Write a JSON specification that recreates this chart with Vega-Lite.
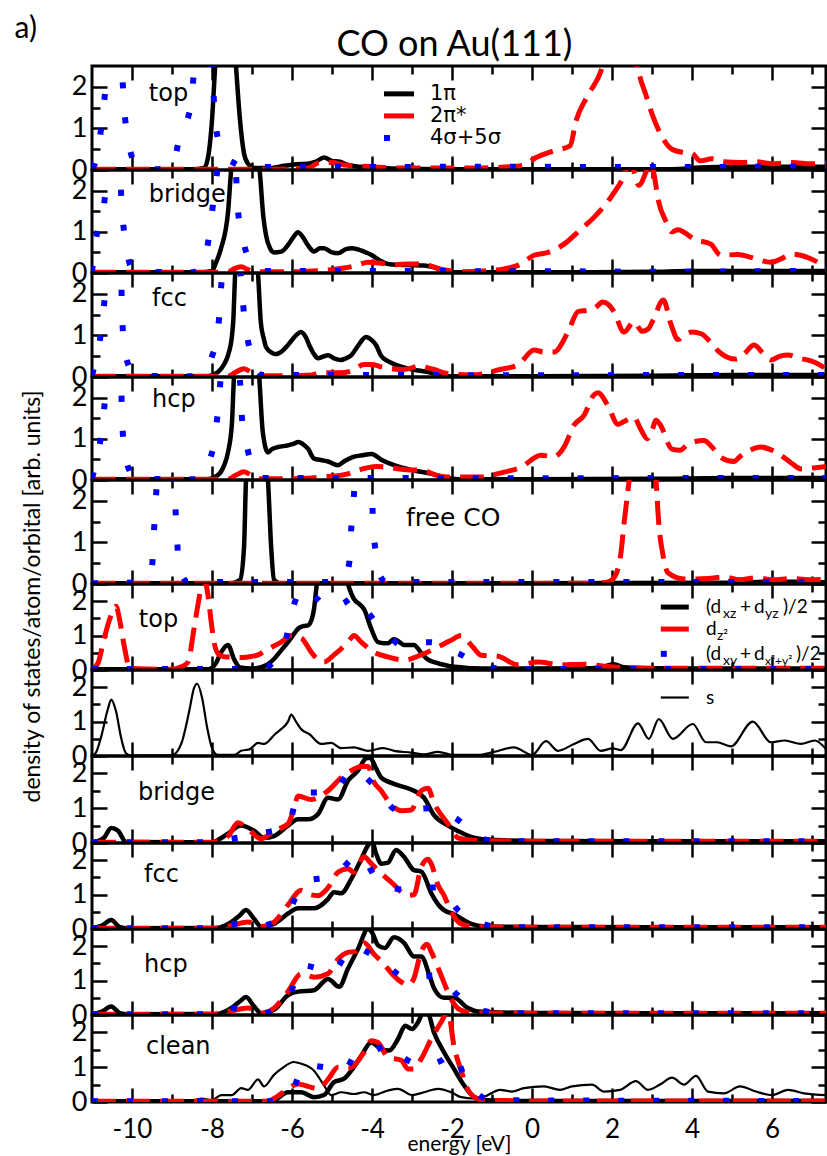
{
"$schema":"https://vega.github.io/schema/vega-lite/v6.json",
"padding":{"left":12,"top":11,"right":0,"bottom":0},
"spacing":0,
"bounds":"flush",
"config":{"font":"Lato","view":{"stroke":"black","strokeWidth":3},
"axis":{"grid":false,"domain":false,"tickColor":"black","tickWidth":2.5,"labelColor":"black","labelFont":"Lato","labelFontSize":27,"labelFlush":false,"labelOverlap":false,"titleColor":"black","titleFont":"Lato","titleFontWeight":"normal"},
"line":{"interpolate":"monotone"},
"text":{"color":"black","font":"Lato"}},
"datasets":{
"p1":[
{"s":"k","x":-11,"y":0.02},{"s":"k","x":-8.4,"y":0.02},{"s":"k","x":-8.2,"y":0.05},{"s":"k","x":-8.1,"y":0.3},{"s":"k","x":-8.0,"y":1.2},{"s":"k","x":-7.92,"y":2.5},{"s":"k","x":-7.8,"y":4},{"s":"k","x":-7.5,"y":4},{"s":"k","x":-7.4,"y":2.5},{"s":"k","x":-7.3,"y":1.2},{"s":"k","x":-7.2,"y":0.4},{"s":"k","x":-7.1,"y":0.15},{"s":"k","x":-6.95,"y":0.05},{"s":"k","x":-6.5,"y":0.05},{"s":"k","x":-6.2,"y":0.1},{"s":"k","x":-5.9,"y":0.14},{"s":"k","x":-5.6,"y":0.15},{"s":"k","x":-5.4,"y":0.2},{"s":"k","x":-5.2,"y":0.3},{"s":"k","x":-5.0,"y":0.22},{"s":"k","x":-4.8,"y":0.2},{"s":"k","x":-4.6,"y":0.12},{"s":"k","x":-4.3,"y":0.08},{"s":"k","x":-3.8,"y":0.05},{"s":"k","x":-3,"y":0.03},{"s":"k","x":-2,"y":0.02},{"s":"k","x":0,"y":0.02},{"s":"k","x":2,"y":0.02},{"s":"k","x":3.5,"y":0.02},{"s":"k","x":4.2,"y":0.06},{"s":"k","x":5,"y":0.08},{"s":"k","x":6,"y":0.08},{"s":"k","x":7.35,"y":0.08},
{"s":"r","x":-11,"y":0.02},{"s":"r","x":-6.5,"y":0.02},{"s":"r","x":-5.6,"y":0.05},{"s":"r","x":-5.3,"y":0.18},{"s":"r","x":-5.0,"y":0.18},{"s":"r","x":-4.7,"y":0.12},{"s":"r","x":-4.4,"y":0.1},{"s":"r","x":-4.0,"y":0.08},{"s":"r","x":-3.5,"y":0.05},{"s":"r","x":-2.5,"y":0.05},{"s":"r","x":-1.5,"y":0.05},{"s":"r","x":-0.5,"y":0.08},{"s":"r","x":-0.2,"y":0.12},{"s":"r","x":0.1,"y":0.3},{"s":"r","x":0.5,"y":0.45},{"s":"r","x":0.95,"y":0.58},{"s":"r","x":1.1,"y":1.18},{"s":"r","x":1.4,"y":1.8},{"s":"r","x":1.75,"y":2.45},{"s":"r","x":2.0,"y":3.5},{"s":"r","x":2.3,"y":4},{"s":"r","x":2.5,"y":3.5},{"s":"r","x":2.65,"y":2.45},{"s":"r","x":2.85,"y":1.8},{"s":"r","x":3.0,"y":1.35},{"s":"r","x":3.25,"y":0.8},{"s":"r","x":3.5,"y":0.5},{"s":"r","x":3.8,"y":0.42},{"s":"r","x":4.0,"y":0.4},{"s":"r","x":4.2,"y":0.22},{"s":"r","x":4.5,"y":0.27},{"s":"r","x":4.8,"y":0.2},{"s":"r","x":5.2,"y":0.18},{"s":"r","x":5.6,"y":0.2},{"s":"r","x":6.0,"y":0.15},{"s":"r","x":6.5,"y":0.18},{"s":"r","x":7.0,"y":0.15},{"s":"r","x":7.35,"y":0.15},
{"s":"b","x":-11,"y":0.05},{"s":"b","x":-10.95,"y":0.1},{"s":"b","x":-10.8,"y":0.8},{"s":"b","x":-10.7,"y":1.6},{"s":"b","x":-10.62,"y":2.4},{"s":"b","x":-10.5,"y":3.5},{"s":"b","x":-10.35,"y":3.5},{"s":"b","x":-10.25,"y":2.4},{"s":"b","x":-10.2,"y":1.55},{"s":"b","x":-10.1,"y":0.75},{"s":"b","x":-10.0,"y":0.3},{"s":"b","x":-9.85,"y":0.05},{"s":"b","x":-9.5,"y":0.02},{"s":"b","x":-9.0,"y":0.05},{"s":"b","x":-8.82,"y":0.75},{"s":"b","x":-8.52,"y":1.6},{"s":"b","x":-8.45,"y":2.4},{"s":"b","x":-8.3,"y":3.5},{"s":"b","x":-8.1,"y":3.5},{"s":"b","x":-7.98,"y":2.4},{"s":"b","x":-7.95,"y":1.6},{"s":"b","x":-7.85,"y":0.75},{"s":"b","x":-7.65,"y":0.3},{"s":"b","x":-7.45,"y":0.17},{"s":"b","x":-7.2,"y":0.08},{"s":"b","x":-6.5,"y":0.07},{"s":"b","x":-5.5,"y":0.08},{"s":"b","x":-4,"y":0.07},{"s":"b","x":-2,"y":0.08},{"s":"b","x":0,"y":0.08},{"s":"b","x":2,"y":0.07},{"s":"b","x":4,"y":0.07},{"s":"b","x":6,"y":0.08},{"s":"b","x":7.35,"y":0.08}],
"p2":[
{"s":"k","x":-11,"y":0.02},{"s":"k","x":-8.2,"y":0.02},{"s":"k","x":-8.0,"y":0.05},{"s":"k","x":-7.9,"y":0.25},{"s":"k","x":-7.78,"y":0.58},{"s":"k","x":-7.6,"y":1.47},{"s":"k","x":-7.53,"y":2.4},{"s":"k","x":-7.4,"y":3.5},{"s":"k","x":-6.95,"y":3.5},{"s":"k","x":-6.8,"y":2.4},{"s":"k","x":-6.72,"y":1.4},{"s":"k","x":-6.65,"y":0.92},{"s":"k","x":-6.55,"y":0.6},{"s":"k","x":-6.45,"y":0.5},{"s":"k","x":-6.27,"y":0.52},{"s":"k","x":-6.1,"y":0.68},{"s":"k","x":-5.98,"y":0.85},{"s":"k","x":-5.85,"y":0.99},{"s":"k","x":-5.75,"y":0.9},{"s":"k","x":-5.6,"y":0.67},{"s":"k","x":-5.45,"y":0.52},{"s":"k","x":-5.3,"y":0.6},{"s":"k","x":-5.2,"y":0.6},{"s":"k","x":-5.0,"y":0.5},{"s":"k","x":-4.85,"y":0.48},{"s":"k","x":-4.65,"y":0.58},{"s":"k","x":-4.5,"y":0.6},{"s":"k","x":-4.2,"y":0.52},{"s":"k","x":-4.0,"y":0.43},{"s":"k","x":-3.8,"y":0.3},{"s":"k","x":-3.6,"y":0.22},{"s":"k","x":-3.3,"y":0.2},{"s":"k","x":-3.0,"y":0.19},{"s":"k","x":-2.7,"y":0.18},{"s":"k","x":-2.5,"y":0.15},{"s":"k","x":-2.2,"y":0.06},{"s":"k","x":-2.0,"y":0.02},{"s":"k","x":0,"y":0.02},{"s":"k","x":1.5,"y":0.02},{"s":"k","x":3,"y":0.03},{"s":"k","x":4,"y":0.05},{"s":"k","x":5,"y":0.05},{"s":"k","x":6,"y":0.05},{"s":"k","x":7.35,"y":0.05},
{"s":"r","x":-11,"y":0.02},{"s":"r","x":-7.6,"y":0.02},{"s":"r","x":-7.45,"y":0.1},{"s":"r","x":-7.27,"y":0.15},{"s":"r","x":-7.1,"y":0.08},{"s":"r","x":-6.9,"y":0.03},{"s":"r","x":-6.0,"y":0.03},{"s":"r","x":-5.5,"y":0.05},{"s":"r","x":-5.0,"y":0.08},{"s":"r","x":-4.7,"y":0.12},{"s":"r","x":-4.4,"y":0.18},{"s":"r","x":-4.1,"y":0.26},{"s":"r","x":-3.9,"y":0.25},{"s":"r","x":-3.7,"y":0.23},{"s":"r","x":-3.4,"y":0.2},{"s":"r","x":-3.1,"y":0.22},{"s":"r","x":-2.9,"y":0.22},{"s":"r","x":-2.55,"y":0.18},{"s":"r","x":-2.3,"y":0.1},{"s":"r","x":-2.0,"y":0.05},{"s":"r","x":-1.8,"y":0.03},{"s":"r","x":-1.2,"y":0.05},{"s":"r","x":-0.7,"y":0.1},{"s":"r","x":-0.27,"y":0.22},{"s":"r","x":0.05,"y":0.43},{"s":"r","x":0.4,"y":0.5},{"s":"r","x":0.8,"y":0.7},{"s":"r","x":1.22,"y":1.06},{"s":"r","x":1.55,"y":1.35},{"s":"r","x":2.0,"y":1.88},{"s":"r","x":2.3,"y":2.37},{"s":"r","x":2.42,"y":2.7},{"s":"r","x":2.5,"y":2.6},{"s":"r","x":2.67,"y":2.13},{"s":"r","x":2.85,"y":2.45},{"s":"r","x":2.95,"y":2.7},{"s":"r","x":3.05,"y":2.4},{"s":"r","x":3.15,"y":1.8},{"s":"r","x":3.35,"y":1.25},{"s":"r","x":3.5,"y":1.0},{"s":"r","x":3.65,"y":1.05},{"s":"r","x":3.8,"y":0.99},{"s":"r","x":4.05,"y":0.82},{"s":"r","x":4.47,"y":0.7},{"s":"r","x":4.72,"y":0.43},{"s":"r","x":5.15,"y":0.45},{"s":"r","x":5.47,"y":0.38},{"s":"r","x":5.97,"y":0.26},{"s":"r","x":6.3,"y":0.38},{"s":"r","x":6.47,"y":0.46},{"s":"r","x":6.72,"y":0.43},{"s":"r","x":7.15,"y":0.26},{"s":"r","x":7.35,"y":0.15},
{"s":"b","x":-11,"y":0.03},{"s":"b","x":-10.9,"y":0.82},{"s":"b","x":-10.7,"y":1.64},{"s":"b","x":-10.62,"y":2.5},{"s":"b","x":-10.5,"y":3.5},{"s":"b","x":-10.4,"y":3.5},{"s":"b","x":-10.3,"y":2.4},{"s":"b","x":-10.25,"y":1.54},{"s":"b","x":-10.15,"y":0.7},{"s":"b","x":-10.05,"y":0.2},{"s":"b","x":-9.9,"y":0.03},{"s":"b","x":-8.5,"y":0.02},{"s":"b","x":-8.3,"y":0.1},{"s":"b","x":-8.2,"y":0.26},{"s":"b","x":-8.05,"y":1.06},{"s":"b","x":-7.95,"y":1.88},{"s":"b","x":-7.85,"y":2.6},{"s":"b","x":-7.7,"y":3.5},{"s":"b","x":-7.5,"y":3.5},{"s":"b","x":-7.4,"y":2.4},{"s":"b","x":-7.35,"y":1.52},{"s":"b","x":-7.2,"y":0.7},{"s":"b","x":-7.0,"y":0.2},{"s":"b","x":-6.8,"y":0.05},{"s":"b","x":-5,"y":0.05},{"s":"b","x":-3,"y":0.05},{"s":"b","x":-1,"y":0.04},{"s":"b","x":1,"y":0.04},{"s":"b","x":3,"y":0.03},{"s":"b","x":5,"y":0.04},{"s":"b","x":7.35,"y":0.05}],
"p3":[
{"s":"k","x":-11,"y":0.02},{"s":"k","x":-8.1,"y":0.02},{"s":"k","x":-7.85,"y":0.12},{"s":"k","x":-7.7,"y":0.3},{"s":"k","x":-7.6,"y":0.52},{"s":"k","x":-7.5,"y":1.0},{"s":"k","x":-7.47,"y":1.32},{"s":"k","x":-7.42,"y":2.5},{"s":"k","x":-7.3,"y":3.5},{"s":"k","x":-6.95,"y":3.5},{"s":"k","x":-6.85,"y":2.5},{"s":"k","x":-6.78,"y":1.32},{"s":"k","x":-6.7,"y":0.9},{"s":"k","x":-6.65,"y":0.72},{"s":"k","x":-6.5,"y":0.58},{"s":"k","x":-6.4,"y":0.55},{"s":"k","x":-6.25,"y":0.62},{"s":"k","x":-6.1,"y":0.77},{"s":"k","x":-5.9,"y":1.0},{"s":"k","x":-5.78,"y":1.08},{"s":"k","x":-5.65,"y":0.95},{"s":"k","x":-5.57,"y":0.77},{"s":"k","x":-5.45,"y":0.55},{"s":"k","x":-5.35,"y":0.45},{"s":"k","x":-5.2,"y":0.5},{"s":"k","x":-5.1,"y":0.52},{"s":"k","x":-4.95,"y":0.45},{"s":"k","x":-4.78,"y":0.41},{"s":"k","x":-4.65,"y":0.45},{"s":"k","x":-4.52,"y":0.52},{"s":"k","x":-4.35,"y":0.75},{"s":"k","x":-4.15,"y":0.96},{"s":"k","x":-4.0,"y":0.88},{"s":"k","x":-3.9,"y":0.77},{"s":"k","x":-3.78,"y":0.52},{"s":"k","x":-3.6,"y":0.38},{"s":"k","x":-3.45,"y":0.31},{"s":"k","x":-3.1,"y":0.2},{"s":"k","x":-2.6,"y":0.12},{"s":"k","x":-2.1,"y":0.02},{"s":"k","x":0,"y":0.02},{"s":"k","x":3,"y":0.03},{"s":"k","x":5,"y":0.05},{"s":"k","x":7.35,"y":0.05},
{"s":"r","x":-11,"y":0.02},{"s":"r","x":-7.6,"y":0.02},{"s":"r","x":-7.4,"y":0.12},{"s":"r","x":-7.2,"y":0.2},{"s":"r","x":-7.0,"y":0.1},{"s":"r","x":-6.8,"y":0.03},{"s":"r","x":-6.0,"y":0.03},{"s":"r","x":-5.5,"y":0.05},{"s":"r","x":-5.3,"y":0.1},{"s":"r","x":-5.0,"y":0.1},{"s":"r","x":-4.8,"y":0.1},{"s":"r","x":-4.5,"y":0.15},{"s":"r","x":-4.2,"y":0.3},{"s":"r","x":-4.0,"y":0.3},{"s":"r","x":-3.8,"y":0.25},{"s":"r","x":-3.5,"y":0.2},{"s":"r","x":-3.2,"y":0.18},{"s":"r","x":-3.0,"y":0.22},{"s":"r","x":-2.8,"y":0.27},{"s":"r","x":-2.6,"y":0.22},{"s":"r","x":-2.45,"y":0.18},{"s":"r","x":-2.2,"y":0.1},{"s":"r","x":-1.95,"y":0.07},{"s":"r","x":-1.5,"y":0.05},{"s":"r","x":-1.1,"y":0.1},{"s":"r","x":-0.85,"y":0.17},{"s":"r","x":-0.35,"y":0.29},{"s":"r","x":0.05,"y":0.65},{"s":"r","x":0.3,"y":0.6},{"s":"r","x":0.55,"y":0.6},{"s":"r","x":0.9,"y":1.08},{"s":"r","x":1.15,"y":1.57},{"s":"r","x":1.35,"y":1.6},{"s":"r","x":1.55,"y":1.64},{"s":"r","x":1.77,"y":1.8},{"s":"r","x":1.9,"y":1.75},{"s":"r","x":2.05,"y":1.57},{"s":"r","x":2.3,"y":1.08},{"s":"r","x":2.55,"y":1.33},{"s":"r","x":2.75,"y":1.1},{"s":"r","x":2.9,"y":1.15},{"s":"r","x":3.03,"y":1.37},{"s":"r","x":3.28,"y":1.85},{"s":"r","x":3.48,"y":1.25},{"s":"r","x":3.65,"y":0.9},{"s":"r","x":3.8,"y":1.0},{"s":"r","x":4.0,"y":1.08},{"s":"r","x":4.23,"y":1.04},{"s":"r","x":4.45,"y":0.85},{"s":"r","x":4.65,"y":0.63},{"s":"r","x":5.1,"y":0.43},{"s":"r","x":5.3,"y":0.55},{"s":"r","x":5.55,"y":0.77},{"s":"r","x":5.75,"y":0.6},{"s":"r","x":5.97,"y":0.41},{"s":"r","x":6.2,"y":0.5},{"s":"r","x":6.4,"y":0.53},{"s":"r","x":6.7,"y":0.45},{"s":"r","x":7.05,"y":0.36},{"s":"r","x":7.35,"y":0.2},
{"s":"b","x":-11,"y":0.05},{"s":"b","x":-10.9,"y":0.4},{"s":"b","x":-10.8,"y":0.9},{"s":"b","x":-10.7,"y":1.73},{"s":"b","x":-10.62,"y":2.5},{"s":"b","x":-10.5,"y":3.5},{"s":"b","x":-10.35,"y":3.5},{"s":"b","x":-10.27,"y":2.4},{"s":"b","x":-10.25,"y":1.52},{"s":"b","x":-10.18,"y":0.68},{"s":"b","x":-10.05,"y":0.2},{"s":"b","x":-9.9,"y":0.03},{"s":"b","x":-8.5,"y":0.02},{"s":"b","x":-8.3,"y":0.05},{"s":"b","x":-8.2,"y":0.12},{"s":"b","x":-8.0,"y":0.5},{"s":"b","x":-7.9,"y":0.84},{"s":"b","x":-7.8,"y":1.68},{"s":"b","x":-7.75,"y":2.5},{"s":"b","x":-7.6,"y":3.5},{"s":"b","x":-7.4,"y":3.5},{"s":"b","x":-7.28,"y":2.45},{"s":"b","x":-7.2,"y":1.52},{"s":"b","x":-7.07,"y":0.72},{"s":"b","x":-6.9,"y":0.2},{"s":"b","x":-6.75,"y":0.05},{"s":"b","x":-5,"y":0.05},{"s":"b","x":-3,"y":0.05},{"s":"b","x":-1,"y":0.04},{"s":"b","x":1,"y":0.04},{"s":"b","x":3,"y":0.05},{"s":"b","x":5,"y":0.05},{"s":"b","x":7.35,"y":0.05}],
"p4":[
{"s":"k","x":-11,"y":0.02},{"s":"k","x":-8.1,"y":0.02},{"s":"k","x":-7.85,"y":0.12},{"s":"k","x":-7.7,"y":0.35},{"s":"k","x":-7.6,"y":0.67},{"s":"k","x":-7.5,"y":1.4},{"s":"k","x":-7.45,"y":2.5},{"s":"k","x":-7.3,"y":3.5},{"s":"k","x":-6.95,"y":3.5},{"s":"k","x":-6.82,"y":2.5},{"s":"k","x":-6.73,"y":1.16},{"s":"k","x":-6.6,"y":0.67},{"s":"k","x":-6.5,"y":0.75},{"s":"k","x":-6.35,"y":0.8},{"s":"k","x":-6.1,"y":0.84},{"s":"k","x":-5.95,"y":0.88},{"s":"k","x":-5.85,"y":0.92},{"s":"k","x":-5.7,"y":0.85},{"s":"k","x":-5.6,"y":0.76},{"s":"k","x":-5.45,"y":0.52},{"s":"k","x":-5.25,"y":0.48},{"s":"k","x":-5.1,"y":0.45},{"s":"k","x":-4.85,"y":0.36},{"s":"k","x":-4.7,"y":0.45},{"s":"k","x":-4.5,"y":0.55},{"s":"k","x":-4.25,"y":0.6},{"s":"k","x":-4.0,"y":0.63},{"s":"k","x":-3.78,"y":0.5},{"s":"k","x":-3.45,"y":0.36},{"s":"k","x":-3.0,"y":0.24},{"s":"k","x":-2.5,"y":0.15},{"s":"k","x":-2.1,"y":0.05},{"s":"k","x":-1.8,"y":0.02},{"s":"k","x":0,"y":0.02},{"s":"k","x":3,"y":0.03},{"s":"k","x":5,"y":0.05},{"s":"k","x":7.35,"y":0.05},
{"s":"r","x":-11,"y":0.02},{"s":"r","x":-7.6,"y":0.02},{"s":"r","x":-7.4,"y":0.12},{"s":"r","x":-7.2,"y":0.2},{"s":"r","x":-7.0,"y":0.1},{"s":"r","x":-6.8,"y":0.03},{"s":"r","x":-6.0,"y":0.03},{"s":"r","x":-5.5,"y":0.05},{"s":"r","x":-5.2,"y":0.08},{"s":"r","x":-4.9,"y":0.1},{"s":"r","x":-4.6,"y":0.15},{"s":"r","x":-4.3,"y":0.25},{"s":"r","x":-4.1,"y":0.3},{"s":"r","x":-3.9,"y":0.33},{"s":"r","x":-3.7,"y":0.32},{"s":"r","x":-3.4,"y":0.28},{"s":"r","x":-3.0,"y":0.24},{"s":"r","x":-2.77,"y":0.24},{"s":"r","x":-2.6,"y":0.2},{"s":"r","x":-2.4,"y":0.12},{"s":"r","x":-2.1,"y":0.07},{"s":"r","x":-1.7,"y":0.07},{"s":"r","x":-1.3,"y":0.07},{"s":"r","x":-1.0,"y":0.12},{"s":"r","x":-0.7,"y":0.19},{"s":"r","x":-0.27,"y":0.31},{"s":"r","x":0.22,"y":0.6},{"s":"r","x":0.55,"y":0.57},{"s":"r","x":0.8,"y":0.8},{"s":"r","x":1.05,"y":1.33},{"s":"r","x":1.3,"y":1.57},{"s":"r","x":1.55,"y":2.07},{"s":"r","x":1.65,"y":2.12},{"s":"r","x":1.9,"y":1.8},{"s":"r","x":2.15,"y":1.35},{"s":"r","x":2.3,"y":1.42},{"s":"r","x":2.55,"y":1.52},{"s":"r","x":2.72,"y":1.23},{"s":"r","x":2.88,"y":1.0},{"s":"r","x":3.0,"y":1.2},{"s":"r","x":3.1,"y":1.45},{"s":"r","x":3.2,"y":1.35},{"s":"r","x":3.5,"y":0.75},{"s":"r","x":3.7,"y":0.72},{"s":"r","x":3.9,"y":0.87},{"s":"r","x":4.3,"y":0.96},{"s":"r","x":4.5,"y":0.8},{"s":"r","x":4.72,"y":0.55},{"s":"r","x":5.05,"y":0.45},{"s":"r","x":5.2,"y":0.57},{"s":"r","x":5.45,"y":0.72},{"s":"r","x":5.72,"y":0.8},{"s":"r","x":6.0,"y":0.72},{"s":"r","x":6.22,"y":0.6},{"s":"r","x":6.5,"y":0.4},{"s":"r","x":6.72,"y":0.27},{"s":"r","x":7.1,"y":0.3},{"s":"r","x":7.35,"y":0.33},
{"s":"b","x":-11,"y":0.05},{"s":"b","x":-10.9,"y":0.4},{"s":"b","x":-10.8,"y":0.9},{"s":"b","x":-10.7,"y":1.7},{"s":"b","x":-10.62,"y":2.5},{"s":"b","x":-10.5,"y":3.5},{"s":"b","x":-10.35,"y":3.5},{"s":"b","x":-10.27,"y":2.4},{"s":"b","x":-10.25,"y":1.52},{"s":"b","x":-10.18,"y":0.68},{"s":"b","x":-10.05,"y":0.2},{"s":"b","x":-9.9,"y":0.03},{"s":"b","x":-8.5,"y":0.02},{"s":"b","x":-8.3,"y":0.05},{"s":"b","x":-8.2,"y":0.15},{"s":"b","x":-8.05,"y":0.5},{"s":"b","x":-7.95,"y":0.9},{"s":"b","x":-7.85,"y":1.7},{"s":"b","x":-7.78,"y":2.5},{"s":"b","x":-7.6,"y":3.5},{"s":"b","x":-7.4,"y":3.5},{"s":"b","x":-7.3,"y":2.4},{"s":"b","x":-7.25,"y":1.5},{"s":"b","x":-7.1,"y":0.7},{"s":"b","x":-6.95,"y":0.2},{"s":"b","x":-6.8,"y":0.05},{"s":"b","x":-5,"y":0.05},{"s":"b","x":-3,"y":0.05},{"s":"b","x":-1,"y":0.04},{"s":"b","x":1,"y":0.04},{"s":"b","x":3,"y":0.05},{"s":"b","x":5,"y":0.05},{"s":"b","x":7.35,"y":0.05}],
"p5":[
{"s":"k","x":-11,"y":0.02},{"s":"k","x":-7.5,"y":0.02},{"s":"k","x":-7.3,"y":0.1},{"s":"k","x":-7.2,"y":0.87},{"s":"k","x":-7.15,"y":2.5},{"s":"k","x":-7.0,"y":4},{"s":"k","x":-6.75,"y":4},{"s":"k","x":-6.6,"y":2.5},{"s":"k","x":-6.52,"y":0.87},{"s":"k","x":-6.45,"y":0.1},{"s":"k","x":-6.3,"y":0.02},{"s":"k","x":0,"y":0.02},{"s":"k","x":5,"y":0.03},{"s":"k","x":6,"y":0.06},{"s":"k","x":7.35,"y":0.04},
{"s":"r","x":-11,"y":0.02},{"s":"r","x":1.5,"y":0.02},{"s":"r","x":1.9,"y":0.05},{"s":"r","x":2.05,"y":0.15},{"s":"r","x":2.22,"y":0.72},{"s":"r","x":2.3,"y":1.45},{"s":"r","x":2.43,"y":2.5},{"s":"r","x":2.6,"y":4},{"s":"r","x":2.9,"y":4},{"s":"r","x":3.1,"y":2.5},{"s":"r","x":3.17,"y":1.45},{"s":"r","x":3.27,"y":0.72},{"s":"r","x":3.4,"y":0.27},{"s":"r","x":3.8,"y":0.12},{"s":"r","x":4.4,"y":0.13},{"s":"r","x":4.8,"y":0.17},{"s":"r","x":5.2,"y":0.1},{"s":"r","x":5.6,"y":0.15},{"s":"r","x":6.0,"y":0.1},{"s":"r","x":6.5,"y":0.13},{"s":"r","x":7.0,"y":0.1},{"s":"r","x":7.35,"y":0.12},
{"s":"b","x":-11,"y":0.02},{"s":"b","x":-10.2,"y":0.03},{"s":"b","x":-9.8,"y":0.05},{"s":"b","x":-9.6,"y":0.2},{"s":"b","x":-9.5,"y":0.43},{"s":"b","x":-9.45,"y":1.28},{"s":"b","x":-9.4,"y":2.1},{"s":"b","x":-9.3,"y":3.5},{"s":"b","x":-9.0,"y":3.5},{"s":"b","x":-8.95,"y":2.5},{"s":"b","x":-8.9,"y":1.57},{"s":"b","x":-8.85,"y":0.72},{"s":"b","x":-8.75,"y":0.2},{"s":"b","x":-8.6,"y":0.05},{"s":"b","x":-5.0,"y":0.05},{"s":"b","x":-4.7,"y":0.15},{"s":"b","x":-4.57,"y":0.5},{"s":"b","x":-4.52,"y":1.32},{"s":"b","x":-4.45,"y":2.17},{"s":"b","x":-4.35,"y":3.5},{"s":"b","x":-4.05,"y":3.5},{"s":"b","x":-4.0,"y":2.5},{"s":"b","x":-3.98,"y":1.57},{"s":"b","x":-3.9,"y":0.72},{"s":"b","x":-3.8,"y":0.2},{"s":"b","x":-3.65,"y":0.05},{"s":"b","x":7.35,"y":0.05}],
"p6":[
{"s":"k","x":-11,"y":0.02},{"s":"k","x":-8.1,"y":0.02},{"s":"k","x":-7.9,"y":0.2},{"s":"k","x":-7.77,"y":0.52},{"s":"k","x":-7.6,"y":0.73},{"s":"k","x":-7.45,"y":0.32},{"s":"k","x":-7.3,"y":0.07},{"s":"k","x":-7.0,"y":0.04},{"s":"k","x":-6.77,"y":0.08},{"s":"k","x":-6.6,"y":0.17},{"s":"k","x":-6.45,"y":0.32},{"s":"k","x":-6.25,"y":0.6},{"s":"k","x":-6.1,"y":0.81},{"s":"k","x":-5.95,"y":1.05},{"s":"k","x":-5.85,"y":1.2},{"s":"k","x":-5.7,"y":1.28},{"s":"k","x":-5.6,"y":1.3},{"s":"k","x":-5.5,"y":1.5},{"s":"k","x":-5.45,"y":1.77},{"s":"k","x":-5.38,"y":2.5},{"s":"k","x":-5.2,"y":3.5},{"s":"k","x":-4.8,"y":3.5},{"s":"k","x":-4.6,"y":2.5},{"s":"k","x":-4.45,"y":2.06},{"s":"k","x":-4.3,"y":1.9},{"s":"k","x":-4.2,"y":1.77},{"s":"k","x":-4.02,"y":1.2},{"s":"k","x":-3.85,"y":0.81},{"s":"k","x":-3.7,"y":0.78},{"s":"k","x":-3.6,"y":0.78},{"s":"k","x":-3.45,"y":0.9},{"s":"k","x":-3.3,"y":0.8},{"s":"k","x":-3.2,"y":0.73},{"s":"k","x":-2.95,"y":0.73},{"s":"k","x":-2.77,"y":0.5},{"s":"k","x":-2.6,"y":0.3},{"s":"k","x":-2.45,"y":0.23},{"s":"k","x":-2.27,"y":0.17},{"s":"k","x":-2.0,"y":0.1},{"s":"k","x":-1.77,"y":0.08},{"s":"k","x":-1.5,"y":0.05},{"s":"k","x":-1,"y":0.04},{"s":"k","x":0,"y":0.04},{"s":"k","x":1.5,"y":0.05},{"s":"k","x":1.8,"y":0.1},{"s":"k","x":2.05,"y":0.17},{"s":"k","x":2.3,"y":0.08},{"s":"k","x":3,"y":0.05},{"s":"k","x":5,"y":0.04},{"s":"k","x":7.35,"y":0.04},
{"s":"r","x":-11,"y":0.02},{"s":"r","x":-10.85,"y":0.2},{"s":"r","x":-10.7,"y":0.9},{"s":"r","x":-10.52,"y":1.6},{"s":"r","x":-10.4,"y":1.85},{"s":"r","x":-10.3,"y":1.4},{"s":"r","x":-10.2,"y":0.73},{"s":"r","x":-10.05,"y":0.05},{"s":"r","x":-9.0,"y":0.02},{"s":"r","x":-8.75,"y":0.1},{"s":"r","x":-8.6,"y":0.23},{"s":"r","x":-8.45,"y":1.2},{"s":"r","x":-8.35,"y":1.9},{"s":"r","x":-8.25,"y":2.5},{"s":"r","x":-8.18,"y":2.6},{"s":"r","x":-8.1,"y":2.17},{"s":"r","x":-8.02,"y":1.4},{"s":"r","x":-7.95,"y":0.81},{"s":"r","x":-7.82,"y":0.44},{"s":"r","x":-7.65,"y":0.38},{"s":"r","x":-7.52,"y":0.38},{"s":"r","x":-7.3,"y":0.36},{"s":"r","x":-7.1,"y":0.38},{"s":"r","x":-6.85,"y":0.44},{"s":"r","x":-6.6,"y":0.61},{"s":"r","x":-6.27,"y":0.81},{"s":"r","x":-6.02,"y":1.0},{"s":"r","x":-5.77,"y":0.93},{"s":"r","x":-5.52,"y":0.52},{"s":"r","x":-5.35,"y":0.3},{"s":"r","x":-5.2,"y":0.23},{"s":"r","x":-4.95,"y":0.44},{"s":"r","x":-4.6,"y":0.81},{"s":"r","x":-4.45,"y":1.0},{"s":"r","x":-4.27,"y":0.81},{"s":"r","x":-3.95,"y":0.52},{"s":"r","x":-3.6,"y":0.38},{"s":"r","x":-3.2,"y":0.29},{"s":"r","x":-2.77,"y":0.44},{"s":"r","x":-2.35,"y":0.67},{"s":"r","x":-2.05,"y":0.85},{"s":"r","x":-1.77,"y":1.0},{"s":"r","x":-1.5,"y":0.7},{"s":"r","x":-1.27,"y":0.43},{"s":"r","x":-0.85,"y":0.4},{"s":"r","x":-0.35,"y":0.15},{"s":"r","x":0.15,"y":0.23},{"s":"r","x":0.72,"y":0.15},{"s":"r","x":1.3,"y":0.17},{"s":"r","x":1.9,"y":0.1},{"s":"r","x":3,"y":0.05},{"s":"r","x":5,"y":0.05},{"s":"r","x":7.35,"y":0.05},
{"s":"b","x":-11,"y":0.03},{"s":"b","x":-7.0,"y":0.03},{"s":"b","x":-6.6,"y":0.1},{"s":"b","x":-6.35,"y":0.45},{"s":"b","x":-6.15,"y":0.9},{"s":"b","x":-5.95,"y":1.9},{"s":"b","x":-5.7,"y":2.4},{"s":"b","x":-5.4,"y":2.1},{"s":"b","x":-5.02,"y":1.77},{"s":"b","x":-4.7,"y":1.95},{"s":"b","x":-4.45,"y":2.12},{"s":"b","x":-4.15,"y":1.75},{"s":"b","x":-3.85,"y":1.3},{"s":"b","x":-3.55,"y":0.95},{"s":"b","x":-3.27,"y":0.73},{"s":"b","x":-2.9,"y":0.8},{"s":"b","x":-2.52,"y":0.81},{"s":"b","x":-2.15,"y":0.62},{"s":"b","x":-1.77,"y":0.44},{"s":"b","x":-1.4,"y":0.2},{"s":"b","x":-1.1,"y":0.09},{"s":"b","x":-0.6,"y":0.03},{"s":"b","x":7.35,"y":0.03}],
"p7":[
{"s":"s","x":-11,"y":0.0},{"s":"s","x":-10.9,"y":0.1},{"s":"s","x":-10.78,"y":0.52},{"s":"s","x":-10.6,"y":1.38},{"s":"s","x":-10.52,"y":1.64},{"s":"s","x":-10.4,"y":1.3},{"s":"s","x":-10.27,"y":0.52},{"s":"s","x":-10.15,"y":0.08},{"s":"s","x":-10.0,"y":0.01},{"s":"s","x":-9.0,"y":0.02},{"s":"s","x":-8.77,"y":0.35},{"s":"s","x":-8.57,"y":1.3},{"s":"s","x":-8.45,"y":1.97},{"s":"s","x":-8.37,"y":2.1},{"s":"s","x":-8.25,"y":1.7},{"s":"s","x":-8.12,"y":0.82},{"s":"s","x":-8.0,"y":0.23},{"s":"s","x":-7.85,"y":0.03},{"s":"s","x":-7.45,"y":0.03},{"s":"s","x":-7.27,"y":0.15},{"s":"s","x":-7.05,"y":0.2},{"s":"s","x":-6.85,"y":0.38},{"s":"s","x":-6.7,"y":0.35},{"s":"s","x":-6.42,"y":0.64},{"s":"s","x":-6.27,"y":0.78},{"s":"s","x":-6.1,"y":1.0},{"s":"s","x":-6.02,"y":1.2},{"s":"s","x":-5.9,"y":1.0},{"s":"s","x":-5.77,"y":0.78},{"s":"s","x":-5.57,"y":0.64},{"s":"s","x":-5.27,"y":0.35},{"s":"s","x":-5.02,"y":0.38},{"s":"s","x":-4.77,"y":0.23},{"s":"s","x":-4.45,"y":0.25},{"s":"s","x":-4.1,"y":0.15},{"s":"s","x":-3.72,"y":0.23},{"s":"s","x":-3.45,"y":0.15},{"s":"s","x":-3.02,"y":0.1},{"s":"s","x":-2.7,"y":0.05},{"s":"s","x":-2.35,"y":0.12},{"s":"s","x":-1.97,"y":0.03},{"s":"s","x":-1.35,"y":0.03},{"s":"s","x":-0.95,"y":0.12},{"s":"s","x":-0.45,"y":0.25},{"s":"s","x":0.0,"y":0.03},{"s":"s","x":0.35,"y":0.43},{"s":"s","x":0.65,"y":0.15},{"s":"s","x":1.05,"y":0.35},{"s":"s","x":1.4,"y":0.5},{"s":"s","x":1.72,"y":0.15},{"s":"s","x":2.02,"y":0.22},{"s":"s","x":2.22,"y":0.17},{"s":"s","x":2.65,"y":0.95},{"s":"s","x":2.92,"y":0.5},{"s":"s","x":3.17,"y":1.07},{"s":"s","x":3.52,"y":0.5},{"s":"s","x":4.02,"y":0.93},{"s":"s","x":4.35,"y":0.4},{"s":"s","x":4.62,"y":0.4},{"s":"s","x":4.97,"y":0.28},{"s":"s","x":5.52,"y":1.0},{"s":"s","x":5.97,"y":0.4},{"s":"s","x":6.32,"y":0.45},{"s":"s","x":6.72,"y":0.35},{"s":"s","x":7.07,"y":0.45},{"s":"s","x":7.35,"y":0.2}],
"p8":[
{"s":"k","x":-11,"y":0.02},{"s":"k","x":-10.8,"y":0.08},{"s":"k","x":-10.7,"y":0.15},{"s":"k","x":-10.52,"y":0.43},{"s":"k","x":-10.35,"y":0.35},{"s":"k","x":-10.15,"y":0.03},{"s":"k","x":-8.0,"y":0.02},{"s":"k","x":-7.8,"y":0.12},{"s":"k","x":-7.6,"y":0.27},{"s":"k","x":-7.27,"y":0.5},{"s":"k","x":-6.95,"y":0.35},{"s":"k","x":-6.7,"y":0.15},{"s":"k","x":-6.45,"y":0.2},{"s":"k","x":-6.1,"y":0.5},{"s":"k","x":-5.85,"y":0.68},{"s":"k","x":-5.6,"y":0.68},{"s":"k","x":-5.35,"y":0.83},{"s":"k","x":-5.1,"y":1.3},{"s":"k","x":-4.85,"y":1.25},{"s":"k","x":-4.6,"y":1.79},{"s":"k","x":-4.35,"y":2.08},{"s":"k","x":-4.15,"y":2.43},{"s":"k","x":-4.05,"y":2.45},{"s":"k","x":-3.9,"y":2.15},{"s":"k","x":-3.77,"y":1.88},{"s":"k","x":-3.45,"y":1.7},{"s":"k","x":-2.95,"y":1.5},{"s":"k","x":-2.7,"y":1.3},{"s":"k","x":-2.45,"y":0.8},{"s":"k","x":-2.1,"y":0.5},{"s":"k","x":-1.77,"y":0.3},{"s":"k","x":-1.45,"y":0.15},{"s":"k","x":-1.2,"y":0.1},{"s":"k","x":0,"y":0.06},{"s":"k","x":3,"y":0.05},{"s":"k","x":7.35,"y":0.05},
{"s":"r","x":-11,"y":0.02},{"s":"r","x":-8.0,"y":0.02},{"s":"r","x":-7.6,"y":0.2},{"s":"r","x":-7.35,"y":0.58},{"s":"r","x":-7.1,"y":0.4},{"s":"r","x":-6.77,"y":0.12},{"s":"r","x":-6.45,"y":0.35},{"s":"r","x":-6.1,"y":0.55},{"s":"r","x":-5.95,"y":1.0},{"s":"r","x":-5.85,"y":1.35},{"s":"r","x":-5.52,"y":1.25},{"s":"r","x":-5.1,"y":1.5},{"s":"r","x":-4.77,"y":1.88},{"s":"r","x":-4.52,"y":2.08},{"s":"r","x":-4.27,"y":2.2},{"s":"r","x":-4.1,"y":2.2},{"s":"r","x":-3.97,"y":1.79},{"s":"r","x":-3.77,"y":1.5},{"s":"r","x":-3.52,"y":1.1},{"s":"r","x":-3.27,"y":0.93},{"s":"r","x":-3.02,"y":0.95},{"s":"r","x":-2.77,"y":1.5},{"s":"r","x":-2.6,"y":1.57},{"s":"r","x":-2.45,"y":1.15},{"s":"r","x":-2.1,"y":0.55},{"s":"r","x":-1.85,"y":0.15},{"s":"r","x":-1.5,"y":0.08},{"s":"r","x":0,"y":0.05},{"s":"r","x":3,"y":0.05},{"s":"r","x":7.35,"y":0.05},
{"s":"b","x":-11,"y":0.02},{"s":"b","x":-8.0,"y":0.02},{"s":"b","x":-7.52,"y":0.12},{"s":"b","x":-6.82,"y":0.27},{"s":"b","x":-6.1,"y":0.5},{"s":"b","x":-5.82,"y":1.45},{"s":"b","x":-5.02,"y":1.45},{"s":"b","x":-4.47,"y":2.1},{"s":"b","x":-3.9,"y":1.6},{"s":"b","x":-3.35,"y":0.93},{"s":"b","x":-2.52,"y":1.0},{"s":"b","x":-1.92,"y":0.72},{"s":"b","x":-1.25,"y":0.12},{"s":"b","x":-0.8,"y":0.05},{"s":"b","x":7.35,"y":0.05}],
"p9":[
{"s":"k","x":-11,"y":0.02},{"s":"k","x":-10.75,"y":0.1},{"s":"k","x":-10.52,"y":0.26},{"s":"k","x":-10.3,"y":0.05},{"s":"k","x":-10.1,"y":0.02},{"s":"k","x":-7.9,"y":0.03},{"s":"k","x":-7.52,"y":0.2},{"s":"k","x":-7.3,"y":0.4},{"s":"k","x":-7.15,"y":0.55},{"s":"k","x":-6.95,"y":0.3},{"s":"k","x":-6.77,"y":0.07},{"s":"k","x":-6.45,"y":0.15},{"s":"k","x":-6.1,"y":0.45},{"s":"k","x":-5.85,"y":0.6},{"s":"k","x":-5.45,"y":0.6},{"s":"k","x":-5.1,"y":0.87},{"s":"k","x":-4.95,"y":1.07},{"s":"k","x":-4.77,"y":1.04},{"s":"k","x":-4.52,"y":1.45},{"s":"k","x":-4.27,"y":2.03},{"s":"k","x":-4.1,"y":2.43},{"s":"k","x":-4.0,"y":2.55},{"s":"k","x":-3.9,"y":2.2},{"s":"k","x":-3.77,"y":1.9},{"s":"k","x":-3.6,"y":1.93},{"s":"k","x":-3.4,"y":2.3},{"s":"k","x":-3.2,"y":2.1},{"s":"k","x":-2.95,"y":1.71},{"s":"k","x":-2.77,"y":1.67},{"s":"k","x":-2.5,"y":1.0},{"s":"k","x":-2.3,"y":0.65},{"s":"k","x":-2.2,"y":0.55},{"s":"k","x":-1.95,"y":0.43},{"s":"k","x":-1.52,"y":0.15},{"s":"k","x":-1.2,"y":0.08},{"s":"k","x":0,"y":0.06},{"s":"k","x":3,"y":0.05},{"s":"k","x":7.35,"y":0.05},
{"s":"r","x":-11,"y":0.02},{"s":"r","x":-8,"y":0.02},{"s":"r","x":-7.52,"y":0.1},{"s":"r","x":-7.1,"y":0.2},{"s":"r","x":-6.77,"y":0.07},{"s":"r","x":-6.45,"y":0.2},{"s":"r","x":-6.1,"y":0.7},{"s":"r","x":-5.77,"y":1.13},{"s":"r","x":-5.55,"y":1.0},{"s":"r","x":-5.35,"y":0.97},{"s":"r","x":-5.1,"y":1.2},{"s":"r","x":-4.85,"y":1.65},{"s":"r","x":-4.6,"y":1.75},{"s":"r","x":-4.45,"y":1.65},{"s":"r","x":-4.2,"y":2.1},{"s":"r","x":-4.02,"y":1.9},{"s":"r","x":-3.85,"y":1.71},{"s":"r","x":-3.52,"y":1.36},{"s":"r","x":-3.1,"y":0.98},{"s":"r","x":-2.95,"y":1.0},{"s":"r","x":-2.77,"y":1.8},{"s":"r","x":-2.6,"y":2.03},{"s":"r","x":-2.52,"y":1.9},{"s":"r","x":-2.35,"y":1.28},{"s":"r","x":-2.2,"y":0.98},{"s":"r","x":-2.02,"y":0.5},{"s":"r","x":-1.77,"y":0.15},{"s":"r","x":-1.4,"y":0.07},{"s":"r","x":0,"y":0.05},{"s":"r","x":3,"y":0.05},{"s":"r","x":7.35,"y":0.05},
{"s":"b","x":-11,"y":0.02},{"s":"b","x":-8,"y":0.02},{"s":"b","x":-7.52,"y":0.15},{"s":"b","x":-6.77,"y":0.1},{"s":"b","x":-6.07,"y":0.55},{"s":"b","x":-5.72,"y":1.36},{"s":"b","x":-4.95,"y":1.56},{"s":"b","x":-4.32,"y":2.14},{"s":"b","x":-3.77,"y":1.3},{"s":"b","x":-3.05,"y":1.13},{"s":"b","x":-2.32,"y":1.22},{"s":"b","x":-1.85,"y":0.55},{"s":"b","x":-1.15,"y":0.12},{"s":"b","x":-0.7,"y":0.05},{"s":"b","x":7.35,"y":0.05}],
"p10":[
{"s":"k","x":-11,"y":0.02},{"s":"k","x":-10.75,"y":0.1},{"s":"k","x":-10.52,"y":0.25},{"s":"k","x":-10.3,"y":0.05},{"s":"k","x":-10.1,"y":0.02},{"s":"k","x":-7.9,"y":0.03},{"s":"k","x":-7.52,"y":0.2},{"s":"k","x":-7.3,"y":0.4},{"s":"k","x":-7.15,"y":0.52},{"s":"k","x":-6.95,"y":0.25},{"s":"k","x":-6.77,"y":0.05},{"s":"k","x":-6.45,"y":0.15},{"s":"k","x":-6.1,"y":0.58},{"s":"k","x":-5.85,"y":0.68},{"s":"k","x":-5.45,"y":0.72},{"s":"k","x":-5.1,"y":1.05},{"s":"k","x":-4.82,"y":0.82},{"s":"k","x":-4.6,"y":1.35},{"s":"k","x":-4.35,"y":1.92},{"s":"k","x":-4.1,"y":2.5},{"s":"k","x":-4.0,"y":2.4},{"s":"k","x":-3.85,"y":2.03},{"s":"k","x":-3.68,"y":1.95},{"s":"k","x":-3.45,"y":2.26},{"s":"k","x":-3.2,"y":2.1},{"s":"k","x":-2.95,"y":1.7},{"s":"k","x":-2.77,"y":1.7},{"s":"k","x":-2.55,"y":1.1},{"s":"k","x":-2.45,"y":0.78},{"s":"k","x":-2.2,"y":0.5},{"s":"k","x":-1.95,"y":0.5},{"s":"k","x":-1.6,"y":0.2},{"s":"k","x":-1.35,"y":0.1},{"s":"k","x":0,"y":0.06},{"s":"k","x":3,"y":0.05},{"s":"k","x":7.35,"y":0.05},
{"s":"r","x":-11,"y":0.02},{"s":"r","x":-8,"y":0.02},{"s":"r","x":-7.52,"y":0.12},{"s":"r","x":-7.1,"y":0.2},{"s":"r","x":-6.77,"y":0.05},{"s":"r","x":-6.45,"y":0.2},{"s":"r","x":-6.1,"y":0.68},{"s":"r","x":-5.77,"y":1.2},{"s":"r","x":-5.45,"y":1.1},{"s":"r","x":-5.1,"y":1.2},{"s":"r","x":-4.85,"y":1.62},{"s":"r","x":-4.6,"y":1.82},{"s":"r","x":-4.4,"y":1.85},{"s":"r","x":-4.2,"y":2.1},{"s":"r","x":-3.95,"y":1.77},{"s":"r","x":-3.7,"y":1.48},{"s":"r","x":-3.5,"y":1.2},{"s":"r","x":-3.27,"y":0.96},{"s":"r","x":-3.1,"y":0.87},{"s":"r","x":-2.95,"y":1.07},{"s":"r","x":-2.8,"y":1.73},{"s":"r","x":-2.7,"y":2.0},{"s":"r","x":-2.62,"y":2.06},{"s":"r","x":-2.52,"y":1.84},{"s":"r","x":-2.27,"y":1.15},{"s":"r","x":-2.02,"y":0.46},{"s":"r","x":-1.8,"y":0.15},{"s":"r","x":-1.5,"y":0.06},{"s":"r","x":0,"y":0.05},{"s":"r","x":3,"y":0.05},{"s":"r","x":7.35,"y":0.05},
{"s":"b","x":-11,"y":0.02},{"s":"b","x":-8,"y":0.02},{"s":"b","x":-7.52,"y":0.2},{"s":"b","x":-6.77,"y":0.05},{"s":"b","x":-6.07,"y":0.55},{"s":"b","x":-5.77,"y":1.45},{"s":"b","x":-5.0,"y":1.26},{"s":"b","x":-4.47,"y":1.97},{"s":"b","x":-3.8,"y":1.6},{"s":"b","x":-3.15,"y":1.1},{"s":"b","x":-2.35,"y":1.15},{"s":"b","x":-1.9,"y":0.62},{"s":"b","x":-1.2,"y":0.12},{"s":"b","x":-0.7,"y":0.05},{"s":"b","x":7.35,"y":0.05}],
"p11":[
{"s":"k","x":-11,"y":0.02},{"s":"k","x":-6.6,"y":0.02},{"s":"k","x":-6.45,"y":0.05},{"s":"k","x":-6.1,"y":0.28},{"s":"k","x":-5.77,"y":0.28},{"s":"k","x":-5.45,"y":0.14},{"s":"k","x":-5.2,"y":0.2},{"s":"k","x":-4.95,"y":0.57},{"s":"k","x":-4.7,"y":0.67},{"s":"k","x":-4.52,"y":0.9},{"s":"k","x":-4.27,"y":1.33},{"s":"k","x":-4.02,"y":1.71},{"s":"k","x":-3.77,"y":1.52},{"s":"k","x":-3.57,"y":1.48},{"s":"k","x":-3.35,"y":1.81},{"s":"k","x":-3.17,"y":2.19},{"s":"k","x":-3.0,"y":2.1},{"s":"k","x":-2.85,"y":2.29},{"s":"k","x":-2.7,"y":2.6},{"s":"k","x":-2.6,"y":2.55},{"s":"k","x":-2.45,"y":2.0},{"s":"k","x":-2.2,"y":1.43},{"s":"k","x":-1.95,"y":0.95},{"s":"k","x":-1.7,"y":0.48},{"s":"k","x":-1.45,"y":0.14},{"s":"k","x":-1.2,"y":0.05},{"s":"k","x":0,"y":0.03},{"s":"k","x":7.35,"y":0.03},
{"s":"s","x":-11,"y":0.01},{"s":"s","x":-8.6,"y":0.01},{"s":"s","x":-8.27,"y":0.1},{"s":"s","x":-8.0,"y":0.05},{"s":"s","x":-7.77,"y":0.2},{"s":"s","x":-7.5,"y":0.2},{"s":"s","x":-7.27,"y":0.4},{"s":"s","x":-7.1,"y":0.35},{"s":"s","x":-6.85,"y":0.65},{"s":"s","x":-6.7,"y":0.45},{"s":"s","x":-6.45,"y":0.78},{"s":"s","x":-6.27,"y":0.95},{"s":"s","x":-5.95,"y":1.15},{"s":"s","x":-5.77,"y":1.1},{"s":"s","x":-5.45,"y":0.9},{"s":"s","x":-5.2,"y":0.48},{"s":"s","x":-5.02,"y":0.2},{"s":"s","x":-4.77,"y":0.28},{"s":"s","x":-4.45,"y":0.23},{"s":"s","x":-4.2,"y":0.28},{"s":"s","x":-3.95,"y":0.2},{"s":"s","x":-3.6,"y":0.33},{"s":"s","x":-3.35,"y":0.38},{"s":"s","x":-3.0,"y":0.2},{"s":"s","x":-2.7,"y":0.28},{"s":"s","x":-2.35,"y":0.38},{"s":"s","x":-2.02,"y":0.28},{"s":"s","x":-1.77,"y":0.14},{"s":"s","x":-1.45,"y":0.1},{"s":"s","x":-1.2,"y":0.15},{"s":"s","x":-0.8,"y":0.35},{"s":"s","x":-0.5,"y":0.3},{"s":"s","x":-0.2,"y":0.4},{"s":"s","x":0.3,"y":0.45},{"s":"s","x":0.7,"y":0.35},{"s":"s","x":1.0,"y":0.45},{"s":"s","x":1.5,"y":0.5},{"s":"s","x":1.8,"y":0.3},{"s":"s","x":2.2,"y":0.35},{"s":"s","x":2.6,"y":0.6},{"s":"s","x":2.9,"y":0.35},{"s":"s","x":3.2,"y":0.5},{"s":"s","x":3.5,"y":0.7},{"s":"s","x":3.8,"y":0.5},{"s":"s","x":4.1,"y":0.75},{"s":"s","x":4.4,"y":0.3},{"s":"s","x":4.8,"y":0.25},{"s":"s","x":5.2,"y":0.45},{"s":"s","x":5.6,"y":0.3},{"s":"s","x":6.0,"y":0.2},{"s":"s","x":6.4,"y":0.35},{"s":"s","x":6.8,"y":0.25},{"s":"s","x":7.35,"y":0.2},
{"s":"r","x":-11,"y":0.02},{"s":"r","x":-6.6,"y":0.02},{"s":"r","x":-6.45,"y":0.1},{"s":"r","x":-6.1,"y":0.38},{"s":"r","x":-5.85,"y":0.52},{"s":"r","x":-5.6,"y":0.45},{"s":"r","x":-5.35,"y":0.38},{"s":"r","x":-5.1,"y":0.65},{"s":"r","x":-4.85,"y":1.0},{"s":"r","x":-4.6,"y":0.97},{"s":"r","x":-4.45,"y":1.05},{"s":"r","x":-4.2,"y":1.43},{"s":"r","x":-4.02,"y":1.76},{"s":"r","x":-3.85,"y":1.71},{"s":"r","x":-3.6,"y":1.28},{"s":"r","x":-3.27,"y":1.2},{"s":"r","x":-3.1,"y":0.95},{"s":"r","x":-2.95,"y":0.95},{"s":"r","x":-2.77,"y":1.24},{"s":"r","x":-2.52,"y":1.81},{"s":"r","x":-2.27,"y":2.3},{"s":"r","x":-2.1,"y":2.6},{"s":"r","x":-1.95,"y":1.6},{"s":"r","x":-1.77,"y":0.9},{"s":"r","x":-1.6,"y":0.35},{"s":"r","x":-1.45,"y":0.15},{"s":"r","x":-1.2,"y":0.05},{"s":"r","x":0,"y":0.03},{"s":"r","x":7.35,"y":0.03},
{"s":"b","x":-11,"y":0.02},{"s":"b","x":-6.6,"y":0.02},{"s":"b","x":-6.2,"y":0.1},{"s":"b","x":-5.95,"y":0.43},{"s":"b","x":-5.7,"y":1.05},{"s":"b","x":-5.2,"y":1.0},{"s":"b","x":-4.7,"y":0.9},{"s":"b","x":-4.4,"y":1.38},{"s":"b","x":-3.92,"y":1.48},{"s":"b","x":-3.6,"y":1.67},{"s":"b","x":-3.17,"y":1.24},{"s":"b","x":-2.7,"y":1.05},{"s":"b","x":-2.27,"y":1.19},{"s":"b","x":-1.95,"y":1.43},{"s":"b","x":-1.72,"y":0.81},{"s":"b","x":-1.4,"y":0.28},{"s":"b","x":-1.0,"y":0.05},{"s":"b","x":7.35,"y":0.03}]
},
"vconcat":[
{"width":734,"height":104,"data":{"name":"p1"},
"layer":[
{"transform":[{"filter":"datum.s=='k'"}],"mark":{"type":"line","color":"black","strokeWidth":4.5,"clip":true},
"encoding":{"x":{"field":"x","type":"quantitative","scale":{"domain":[-11,7.35],"nice":false,"zero":false},"axis":{"orient":"bottom","values":[-10,-9,-8,-7,-6,-5,-4,-3,-2,-1,0,1,2,3,4,5,6,7],"labels":false,"tickSize":{"condition":{"test":"datum.value % 2 == 0","value":-14},"value":-8},"title":null}},
"y":{"field":"y","type":"quantitative","scale":{"domain":[0,2.5],"nice":false,"zero":false},"axis":{"orient":"left","values":[0,0.5,1,1.5,2],"labelExpr":"datum.value % 1 == 0 ? '' + datum.value : ''","labelPadding":20,"tickSize":{"condition":{"test":"datum.value % 1 == 0","value":-15},"value":-8},"title":"a)","titleAngle":0,"titleX":-78,"titleY":-38,"titleAlign":"left","titleBaseline":"middle","titleFontSize":30}}}},
{"transform":[{"filter":"datum.s=='r'"}],"mark":{"type":"line","color":"#ff0000","strokeWidth":5,"strokeDash":[24,10],"clip":true},
"encoding":{"x":{"field":"x","type":"quantitative","scale":{"domain":[-11,7.35],"nice":false,"zero":false},"axis":{"orient":"top","values":[-10,-9,-8,-7,-6,-5,-4,-3,-2,-1,0,1,2,3,4,5,6,7],"labels":false,"tickSize":{"condition":{"test":"datum.value % 2 == 0","value":-14},"value":-8},"title":"CO on Au(111)","titleAngle":0,"titleX":362,"titleY":-22,"titleAlign":"center","titleBaseline":"middle","titleFontSize":36}},
"y":{"field":"y","type":"quantitative","scale":{"domain":[0,2.5],"nice":false,"zero":false},"axis":{"orient":"right","values":[0,0.5,1,1.5,2],"labels":false,"tickSize":{"condition":{"test":"datum.value % 1 == 0","value":-15},"value":-8},"title":null}}}},
{"transform":[{"filter":"datum.s=='b'"}],"mark":{"type":"line","color":"#0000ff","strokeWidth":6,"strokeDash":[6,29],"clip":true},"encoding":{"x":{"field":"x","type":"quantitative","axis":null},"y":{"field":"y","type":"quantitative","axis":null}}},
{"data":{"values":[{"t":"top"}]},"mark":{"type":"text","align":"left","baseline":"middle","fontSize":24,"font":"DejaVu Sans"},"encoding":{"text":{"field":"t"},"x":{"datum":-9.58,"type":"quantitative","axis":null},"y":{"datum":1.83,"type":"quantitative","axis":null}}},
{"data":{"values":[{"t":"1π"}]},"mark":{"type":"rule","color":"black","strokeWidth":5},"encoding":{"x":{"datum":-3.7,"type":"quantitative","axis":null},"x2":{"datum":-2.95},"y":{"datum":1.83,"type":"quantitative","axis":null}}},
{"data":{"values":[{"t":"2π*"}]},"mark":{"type":"rule","color":"#ff0000","strokeWidth":5},"encoding":{"x":{"datum":-3.7,"type":"quantitative","axis":null},"x2":{"datum":-2.95},"y":{"datum":1.3,"type":"quantitative","axis":null}}},
{"data":{"values":[{"t":"4σ+5σ"}]},"mark":{"type":"rule","color":"#0000ff","strokeWidth":6,"strokeDash":[6,29]},"encoding":{"x":{"datum":-3.7,"type":"quantitative","axis":null},"x2":{"datum":-2.95},"y":{"datum":0.77,"type":"quantitative","axis":null}}},
{"data":{"values":[{"t":"1π"}]},"mark":{"type":"text","align":"left","baseline":"middle","fontSize":21,"font":"DejaVu Sans"},"encoding":{"text":{"field":"t"},"x":{"datum":-2.55,"type":"quantitative","axis":null},"y":{"datum":1.83,"type":"quantitative","axis":null}}},
{"data":{"values":[{"t":"2π*"}]},"mark":{"type":"text","align":"left","baseline":"middle","fontSize":21,"font":"DejaVu Sans"},"encoding":{"text":{"field":"t"},"x":{"datum":-2.55,"type":"quantitative","axis":null},"y":{"datum":1.3,"type":"quantitative","axis":null}}},
{"data":{"values":[{"t":"4σ+5σ"}]},"mark":{"type":"text","align":"left","baseline":"middle","fontSize":21,"font":"DejaVu Sans"},"encoding":{"text":{"field":"t"},"x":{"datum":-2.55,"type":"quantitative","axis":null},"y":{"datum":0.77,"type":"quantitative","axis":null}}}
],
"resolve":{"axis":{"x":"independent","y":"independent"}}},

{"width":734,"height":103,"data":{"name":"p2"},
"layer":[
{"transform":[{"filter":"datum.s=='k'"}],"mark":{"type":"line","color":"black","strokeWidth":4.5,"clip":true},
"encoding":{"x":{"field":"x","type":"quantitative","scale":{"domain":[-11,7.35],"nice":false,"zero":false},"axis":{"orient":"bottom","values":[-10,-9,-8,-7,-6,-5,-4,-3,-2,-1,0,1,2,3,4,5,6,7],"labels":false,"tickSize":{"condition":{"test":"datum.value % 2 == 0","value":-14},"value":-8},"title":null}},
"y":{"field":"y","type":"quantitative","scale":{"domain":[0,2.5],"nice":false,"zero":false},"axis":{"orient":"left","values":[0,0.5,1,1.5,2],"labelExpr":"datum.value % 1 == 0 ? '' + datum.value : ''","labelPadding":20,"tickSize":{"condition":{"test":"datum.value % 1 == 0","value":-15},"value":-8},"title":null}}}},
{"transform":[{"filter":"datum.s=='r'"}],"mark":{"type":"line","color":"#ff0000","strokeWidth":5,"strokeDash":[24,10],"clip":true},
"encoding":{"x":{"field":"x","type":"quantitative","scale":{"domain":[-11,7.35],"nice":false,"zero":false},"axis":{"orient":"top","values":[-10,-9,-8,-7,-6,-5,-4,-3,-2,-1,0,1,2,3,4,5,6,7],"labels":false,"tickSize":{"condition":{"test":"datum.value % 2 == 0","value":-14},"value":-8},"title":null}},
"y":{"field":"y","type":"quantitative","scale":{"domain":[0,2.5],"nice":false,"zero":false},"axis":{"orient":"right","values":[0,0.5,1,1.5,2],"labels":false,"tickSize":{"condition":{"test":"datum.value % 1 == 0","value":-15},"value":-8},"title":null}}}},
{"transform":[{"filter":"datum.s=='b'"}],"mark":{"type":"line","color":"#0000ff","strokeWidth":6,"strokeDash":[6,29],"clip":true},"encoding":{"x":{"field":"x","type":"quantitative","axis":null},"y":{"field":"y","type":"quantitative","axis":null}}},
{"data":{"values":[{"t":"bridge"}]},"mark":{"type":"text","align":"left","baseline":"middle","fontSize":24,"font":"DejaVu Sans"},"encoding":{"text":{"field":"t"},"x":{"datum":-9.58,"type":"quantitative","axis":null},"y":{"datum":1.9,"type":"quantitative","axis":null}}}
],
"resolve":{"axis":{"x":"independent","y":"independent"}}},

{"width":734,"height":104,"data":{"name":"p3"},
"layer":[
{"transform":[{"filter":"datum.s=='k'"}],"mark":{"type":"line","color":"black","strokeWidth":4.5,"clip":true},
"encoding":{"x":{"field":"x","type":"quantitative","scale":{"domain":[-11,7.35],"nice":false,"zero":false},"axis":{"orient":"bottom","values":[-10,-9,-8,-7,-6,-5,-4,-3,-2,-1,0,1,2,3,4,5,6,7],"labels":false,"tickSize":{"condition":{"test":"datum.value % 2 == 0","value":-14},"value":-8},"title":null}},
"y":{"field":"y","type":"quantitative","scale":{"domain":[0,2.5],"nice":false,"zero":false},"axis":{"orient":"left","values":[0,0.5,1,1.5,2],"labelExpr":"datum.value % 1 == 0 ? '' + datum.value : ''","labelPadding":20,"tickSize":{"condition":{"test":"datum.value % 1 == 0","value":-15},"value":-8},"title":null}}}},
{"transform":[{"filter":"datum.s=='r'"}],"mark":{"type":"line","color":"#ff0000","strokeWidth":5,"strokeDash":[24,10],"clip":true},
"encoding":{"x":{"field":"x","type":"quantitative","scale":{"domain":[-11,7.35],"nice":false,"zero":false},"axis":{"orient":"top","values":[-10,-9,-8,-7,-6,-5,-4,-3,-2,-1,0,1,2,3,4,5,6,7],"labels":false,"tickSize":{"condition":{"test":"datum.value % 2 == 0","value":-14},"value":-8},"title":null}},
"y":{"field":"y","type":"quantitative","scale":{"domain":[0,2.5],"nice":false,"zero":false},"axis":{"orient":"right","values":[0,0.5,1,1.5,2],"labels":false,"tickSize":{"condition":{"test":"datum.value % 1 == 0","value":-15},"value":-8},"title":null}}}},
{"transform":[{"filter":"datum.s=='b'"}],"mark":{"type":"line","color":"#0000ff","strokeWidth":6,"strokeDash":[6,29],"clip":true},"encoding":{"x":{"field":"x","type":"quantitative","axis":null},"y":{"field":"y","type":"quantitative","axis":null}}},
{"data":{"values":[{"t":"fcc"}]},"mark":{"type":"text","align":"left","baseline":"middle","fontSize":24,"font":"DejaVu Sans"},"encoding":{"text":{"field":"t"},"x":{"datum":-9.5,"type":"quantitative","axis":null},"y":{"datum":1.88,"type":"quantitative","axis":null}}}
],
"resolve":{"axis":{"x":"independent","y":"independent"}}},

{"width":734,"height":103,"data":{"name":"p4"},
"layer":[
{"transform":[{"filter":"datum.s=='k'"}],"mark":{"type":"line","color":"black","strokeWidth":4.5,"clip":true},
"encoding":{"x":{"field":"x","type":"quantitative","scale":{"domain":[-11,7.35],"nice":false,"zero":false},"axis":{"orient":"bottom","values":[-10,-9,-8,-7,-6,-5,-4,-3,-2,-1,0,1,2,3,4,5,6,7],"labels":false,"tickSize":{"condition":{"test":"datum.value % 2 == 0","value":-14},"value":-8},"title":null}},
"y":{"field":"y","type":"quantitative","scale":{"domain":[0,2.5],"nice":false,"zero":false},"axis":{"orient":"left","values":[0,0.5,1,1.5,2],"labelExpr":"datum.value % 1 == 0 ? '' + datum.value : ''","labelPadding":20,"tickSize":{"condition":{"test":"datum.value % 1 == 0","value":-15},"value":-8},"title":null}}}},
{"transform":[{"filter":"datum.s=='r'"}],"mark":{"type":"line","color":"#ff0000","strokeWidth":5,"strokeDash":[24,10],"clip":true},
"encoding":{"x":{"field":"x","type":"quantitative","scale":{"domain":[-11,7.35],"nice":false,"zero":false},"axis":{"orient":"top","values":[-10,-9,-8,-7,-6,-5,-4,-3,-2,-1,0,1,2,3,4,5,6,7],"labels":false,"tickSize":{"condition":{"test":"datum.value % 2 == 0","value":-14},"value":-8},"title":null}},
"y":{"field":"y","type":"quantitative","scale":{"domain":[0,2.5],"nice":false,"zero":false},"axis":{"orient":"right","values":[0,0.5,1,1.5,2],"labels":false,"tickSize":{"condition":{"test":"datum.value % 1 == 0","value":-15},"value":-8},"title":null}}}},
{"transform":[{"filter":"datum.s=='b'"}],"mark":{"type":"line","color":"#0000ff","strokeWidth":6,"strokeDash":[6,29],"clip":true},"encoding":{"x":{"field":"x","type":"quantitative","axis":null},"y":{"field":"y","type":"quantitative","axis":null}}},
{"data":{"values":[{"t":"hcp"}]},"mark":{"type":"text","align":"left","baseline":"middle","fontSize":24,"font":"DejaVu Sans"},"encoding":{"text":{"field":"t"},"x":{"datum":-9.5,"type":"quantitative","axis":null},"y":{"datum":1.93,"type":"quantitative","axis":null}}}
],
"resolve":{"axis":{"x":"independent","y":"independent"}}},

{"width":734,"height":104,"data":{"name":"p5"},
"layer":[
{"transform":[{"filter":"datum.s=='k'"}],"mark":{"type":"line","color":"black","strokeWidth":4.5,"clip":true},
"encoding":{"x":{"field":"x","type":"quantitative","scale":{"domain":[-11,7.35],"nice":false,"zero":false},"axis":{"orient":"bottom","values":[-10,-9,-8,-7,-6,-5,-4,-3,-2,-1,0,1,2,3,4,5,6,7],"labels":false,"tickSize":{"condition":{"test":"datum.value % 2 == 0","value":-14},"value":-8},"title":null}},
"y":{"field":"y","type":"quantitative","scale":{"domain":[0,2.5],"nice":false,"zero":false},"axis":{"orient":"left","values":[0,0.5,1,1.5,2],"labelExpr":"datum.value % 1 == 0 ? '' + datum.value : ''","labelPadding":20,"tickSize":{"condition":{"test":"datum.value % 1 == 0","value":-15},"value":-8},"title":null}}}},
{"transform":[{"filter":"datum.s=='r'"}],"mark":{"type":"line","color":"#ff0000","strokeWidth":5,"strokeDash":[24,10],"clip":true},
"encoding":{"x":{"field":"x","type":"quantitative","scale":{"domain":[-11,7.35],"nice":false,"zero":false},"axis":{"orient":"top","values":[-10,-9,-8,-7,-6,-5,-4,-3,-2,-1,0,1,2,3,4,5,6,7],"labels":false,"tickSize":{"condition":{"test":"datum.value % 2 == 0","value":-14},"value":-8},"title":null}},
"y":{"field":"y","type":"quantitative","scale":{"domain":[0,2.5],"nice":false,"zero":false},"axis":{"orient":"right","values":[0,0.5,1,1.5,2],"labels":false,"tickSize":{"condition":{"test":"datum.value % 1 == 0","value":-15},"value":-8},"title":null}}}},
{"transform":[{"filter":"datum.s=='b'"}],"mark":{"type":"line","color":"#0000ff","strokeWidth":6,"strokeDash":[6,29],"clip":true},"encoding":{"x":{"field":"x","type":"quantitative","axis":null},"y":{"field":"y","type":"quantitative","axis":null}}},
{"data":{"values":[{"t":"free CO"}]},"mark":{"type":"text","align":"left","baseline":"middle","fontSize":25,"font":"DejaVu Sans"},"encoding":{"text":{"field":"t"},"x":{"datum":-3.15,"type":"quantitative","axis":null},"y":{"datum":1.59,"type":"quantitative","axis":null}}}
],
"resolve":{"axis":{"x":"independent","y":"independent"}}},

{"width":734,"height":86,"data":{"name":"p6"},
"layer":[
{"transform":[{"filter":"datum.s=='k'"}],"mark":{"type":"line","color":"black","strokeWidth":4.5,"clip":true},
"encoding":{"x":{"field":"x","type":"quantitative","scale":{"domain":[-11,7.35],"nice":false,"zero":false},"axis":{"orient":"bottom","values":[-10,-9,-8,-7,-6,-5,-4,-3,-2,-1,0,1,2,3,4,5,6,7],"labels":false,"tickSize":{"condition":{"test":"datum.value % 2 == 0","value":-14},"value":-8},"title":null}},
"y":{"field":"y","type":"quantitative","scale":{"domain":[0,2.5],"nice":false,"zero":false},"axis":{"orient":"left","values":[0,0.5,1,1.5,2],"labelExpr":"datum.value % 1 == 0 ? '' + datum.value : ''","labelPadding":20,"tickSize":{"condition":{"test":"datum.value % 1 == 0","value":-15},"value":-8},"title":"density of states/atom/orbital [arb. units]","titleAngle":-90,"titleX":-60,"titleY":12,"titleAlign":"center","titleBaseline":"middle","titleFontSize":23}}}},
{"transform":[{"filter":"datum.s=='r'"}],"mark":{"type":"line","color":"#ff0000","strokeWidth":5,"strokeDash":[24,10],"clip":true},
"encoding":{"x":{"field":"x","type":"quantitative","scale":{"domain":[-11,7.35],"nice":false,"zero":false},"axis":{"orient":"top","values":[-10,-9,-8,-7,-6,-5,-4,-3,-2,-1,0,1,2,3,4,5,6,7],"labels":false,"tickSize":{"condition":{"test":"datum.value % 2 == 0","value":-14},"value":-8},"title":null}},
"y":{"field":"y","type":"quantitative","scale":{"domain":[0,2.5],"nice":false,"zero":false},"axis":{"orient":"right","values":[0,0.5,1,1.5,2],"labels":false,"tickSize":{"condition":{"test":"datum.value % 1 == 0","value":-15},"value":-8},"title":null}}}},
{"transform":[{"filter":"datum.s=='b'"}],"mark":{"type":"line","color":"#0000ff","strokeWidth":6,"strokeDash":[6,29],"clip":true},"encoding":{"x":{"field":"x","type":"quantitative","axis":null},"y":{"field":"y","type":"quantitative","axis":null}}},
{"data":{"values":[{"t":"top"}]},"mark":{"type":"text","align":"left","baseline":"middle","fontSize":24,"font":"DejaVu Sans"},"encoding":{"text":{"field":"t"},"x":{"datum":-9.83,"type":"quantitative","axis":null},"y":{"datum":1.45,"type":"quantitative","axis":null}}},
{"data":{"values":[{"t":"k"}]},"mark":{"type":"rule","color":"black","strokeWidth":5},"encoding":{"x":{"datum":3.22,"type":"quantitative","axis":null},"x2":{"datum":3.92},"y":{"datum":1.83,"type":"quantitative","axis":null}}},
{"data":{"values":[{"t":"r"}]},"mark":{"type":"rule","color":"#ff0000","strokeWidth":5},"encoding":{"x":{"datum":3.22,"type":"quantitative","axis":null},"x2":{"datum":3.92},"y":{"datum":1.19,"type":"quantitative","axis":null}}},
{"data":{"values":[{"t":"b"}]},"mark":{"type":"rule","color":"#0000ff","strokeWidth":6,"strokeDash":[6,29]},"encoding":{"x":{"datum":3.22,"type":"quantitative","axis":null},"x2":{"datum":3.92},"y":{"datum":0.47,"type":"quantitative","axis":null}}},
{"data":{"values":[{"a":"(d","b":"xz","c":"+","d":"d","e":"yz","f":")/2"}]},"encoding":{"x":{"datum":4.35,"type":"quantitative","axis":null},"y":{"datum":1.83,"type":"quantitative","axis":null}},
"layer":[
{"mark":{"type":"text","align":"left","baseline":"middle","fontSize":19},"encoding":{"text":{"field":"a"}}},
{"mark":{"type":"text","align":"left","baseline":"middle","fontSize":14,"dx":17,"dy":7},"encoding":{"text":{"field":"b"}}},
{"mark":{"type":"text","align":"left","baseline":"middle","fontSize":19,"dx":34},"encoding":{"text":{"field":"c"}}},
{"mark":{"type":"text","align":"left","baseline":"middle","fontSize":19,"dx":48},"encoding":{"text":{"field":"d"}}},
{"mark":{"type":"text","align":"left","baseline":"middle","fontSize":14,"dx":59,"dy":7},"encoding":{"text":{"field":"e"}}},
{"mark":{"type":"text","align":"left","baseline":"middle","fontSize":19,"dx":77},"encoding":{"text":{"field":"f"}}}]},
{"data":{"values":[{"a":"d","b":"z²"}]},"encoding":{"x":{"datum":4.35,"type":"quantitative","axis":null},"y":{"datum":1.19,"type":"quantitative","axis":null}},
"layer":[
{"mark":{"type":"text","align":"left","baseline":"middle","fontSize":19},"encoding":{"text":{"field":"a"}}},
{"mark":{"type":"text","align":"left","baseline":"middle","fontSize":14,"dx":11,"dy":7},"encoding":{"text":{"field":"b"}}}]},
{"data":{"values":[{"a":"(d","b":"xy","c":"+","d":"d","e":"x²+y²","f":")/2"}]},"encoding":{"x":{"datum":4.35,"type":"quantitative","axis":null},"y":{"datum":0.47,"type":"quantitative","axis":null}},
"layer":[
{"mark":{"type":"text","align":"left","baseline":"middle","fontSize":19},"encoding":{"text":{"field":"a"}}},
{"mark":{"type":"text","align":"left","baseline":"middle","fontSize":14,"dx":17,"dy":7},"encoding":{"text":{"field":"b"}}},
{"mark":{"type":"text","align":"left","baseline":"middle","fontSize":19,"dx":34},"encoding":{"text":{"field":"c"}}},
{"mark":{"type":"text","align":"left","baseline":"middle","fontSize":19,"dx":48},"encoding":{"text":{"field":"d"}}},
{"mark":{"type":"text","align":"left","baseline":"middle","fontSize":12,"dx":59,"dy":7},"encoding":{"text":{"field":"e"}}},
{"mark":{"type":"text","align":"left","baseline":"middle","fontSize":19,"dx":90},"encoding":{"text":{"field":"f"}}}]}
],
"resolve":{"axis":{"x":"independent","y":"independent"}}},

{"width":734,"height":86,"data":{"name":"p7"},
"layer":[
{"mark":{"type":"line","color":"black","strokeWidth":2.2,"clip":true},
"encoding":{"x":{"field":"x","type":"quantitative","scale":{"domain":[-11,7.35],"nice":false,"zero":false},"axis":{"orient":"bottom","values":[-10,-9,-8,-7,-6,-5,-4,-3,-2,-1,0,1,2,3,4,5,6,7],"labels":false,"tickSize":{"condition":{"test":"datum.value % 2 == 0","value":-14},"value":-8},"title":null}},
"y":{"field":"y","type":"quantitative","scale":{"domain":[0,2.5],"nice":false,"zero":false},"axis":{"orient":"left","values":[0,0.5,1,1.5,2],"labelExpr":"datum.value % 1 == 0 ? '' + datum.value : ''","labelPadding":20,"tickSize":{"condition":{"test":"datum.value % 1 == 0","value":-15},"value":-8},"title":null}}}},
{"mark":{"type":"line","color":"black","strokeWidth":2.2,"opacity":0,"clip":true},
"encoding":{"x":{"field":"x","type":"quantitative","scale":{"domain":[-11,7.35],"nice":false,"zero":false},"axis":{"orient":"top","values":[-10,-9,-8,-7,-6,-5,-4,-3,-2,-1,0,1,2,3,4,5,6,7],"labels":false,"tickSize":{"condition":{"test":"datum.value % 2 == 0","value":-14},"value":-8},"title":null}},
"y":{"field":"y","type":"quantitative","scale":{"domain":[0,2.5],"nice":false,"zero":false},"axis":{"orient":"right","values":[0,0.5,1,1.5,2],"labels":false,"tickSize":{"condition":{"test":"datum.value % 1 == 0","value":-15},"value":-8},"title":null}}}},
{"data":{"values":[{"t":"s"}]},"mark":{"type":"rule","color":"black","strokeWidth":2.2},"encoding":{"x":{"datum":3.22,"type":"quantitative","axis":null},"x2":{"datum":3.92},"y":{"datum":1.7,"type":"quantitative","axis":null}}},
{"data":{"values":[{"t":"s"}]},"mark":{"type":"text","align":"left","baseline":"middle","fontSize":19},"encoding":{"text":{"field":"t"},"x":{"datum":4.35,"type":"quantitative","axis":null},"y":{"datum":1.7,"type":"quantitative","axis":null}}}
],
"resolve":{"axis":{"x":"independent","y":"independent"}}},

{"width":734,"height":87,"data":{"name":"p8"},
"layer":[
{"transform":[{"filter":"datum.s=='k'"}],"mark":{"type":"line","color":"black","strokeWidth":4.5,"clip":true},
"encoding":{"x":{"field":"x","type":"quantitative","scale":{"domain":[-11,7.35],"nice":false,"zero":false},"axis":{"orient":"bottom","values":[-10,-9,-8,-7,-6,-5,-4,-3,-2,-1,0,1,2,3,4,5,6,7],"labels":false,"tickSize":{"condition":{"test":"datum.value % 2 == 0","value":-14},"value":-8},"title":null}},
"y":{"field":"y","type":"quantitative","scale":{"domain":[0,2.5],"nice":false,"zero":false},"axis":{"orient":"left","values":[0,0.5,1,1.5,2],"labelExpr":"datum.value % 1 == 0 ? '' + datum.value : ''","labelPadding":20,"tickSize":{"condition":{"test":"datum.value % 1 == 0","value":-15},"value":-8},"title":null}}}},
{"transform":[{"filter":"datum.s=='r'"}],"mark":{"type":"line","color":"#ff0000","strokeWidth":5,"strokeDash":[24,10],"clip":true},
"encoding":{"x":{"field":"x","type":"quantitative","scale":{"domain":[-11,7.35],"nice":false,"zero":false},"axis":{"orient":"top","values":[-10,-9,-8,-7,-6,-5,-4,-3,-2,-1,0,1,2,3,4,5,6,7],"labels":false,"tickSize":{"condition":{"test":"datum.value % 2 == 0","value":-14},"value":-8},"title":null}},
"y":{"field":"y","type":"quantitative","scale":{"domain":[0,2.5],"nice":false,"zero":false},"axis":{"orient":"right","values":[0,0.5,1,1.5,2],"labels":false,"tickSize":{"condition":{"test":"datum.value % 1 == 0","value":-15},"value":-8},"title":null}}}},
{"transform":[{"filter":"datum.s=='b'"}],"mark":{"type":"line","color":"#0000ff","strokeWidth":6,"strokeDash":[6,29],"clip":true},"encoding":{"x":{"field":"x","type":"quantitative","axis":null},"y":{"field":"y","type":"quantitative","axis":null}}},
{"data":{"values":[{"t":"bridge"}]},"mark":{"type":"text","align":"left","baseline":"middle","fontSize":24,"font":"DejaVu Sans"},"encoding":{"text":{"field":"t"},"x":{"datum":-9.85,"type":"quantitative","axis":null},"y":{"datum":1.45,"type":"quantitative","axis":null}}}
],
"resolve":{"axis":{"x":"independent","y":"independent"}}},

{"width":734,"height":86,"data":{"name":"p9"},
"layer":[
{"transform":[{"filter":"datum.s=='k'"}],"mark":{"type":"line","color":"black","strokeWidth":4.5,"clip":true},
"encoding":{"x":{"field":"x","type":"quantitative","scale":{"domain":[-11,7.35],"nice":false,"zero":false},"axis":{"orient":"bottom","values":[-10,-9,-8,-7,-6,-5,-4,-3,-2,-1,0,1,2,3,4,5,6,7],"labels":false,"tickSize":{"condition":{"test":"datum.value % 2 == 0","value":-14},"value":-8},"title":null}},
"y":{"field":"y","type":"quantitative","scale":{"domain":[0,2.5],"nice":false,"zero":false},"axis":{"orient":"left","values":[0,0.5,1,1.5,2],"labelExpr":"datum.value % 1 == 0 ? '' + datum.value : ''","labelPadding":20,"tickSize":{"condition":{"test":"datum.value % 1 == 0","value":-15},"value":-8},"title":null}}}},
{"transform":[{"filter":"datum.s=='r'"}],"mark":{"type":"line","color":"#ff0000","strokeWidth":5,"strokeDash":[24,10],"clip":true},
"encoding":{"x":{"field":"x","type":"quantitative","scale":{"domain":[-11,7.35],"nice":false,"zero":false},"axis":{"orient":"top","values":[-10,-9,-8,-7,-6,-5,-4,-3,-2,-1,0,1,2,3,4,5,6,7],"labels":false,"tickSize":{"condition":{"test":"datum.value % 2 == 0","value":-14},"value":-8},"title":null}},
"y":{"field":"y","type":"quantitative","scale":{"domain":[0,2.5],"nice":false,"zero":false},"axis":{"orient":"right","values":[0,0.5,1,1.5,2],"labels":false,"tickSize":{"condition":{"test":"datum.value % 1 == 0","value":-15},"value":-8},"title":null}}}},
{"transform":[{"filter":"datum.s=='b'"}],"mark":{"type":"line","color":"#0000ff","strokeWidth":6,"strokeDash":[6,29],"clip":true},"encoding":{"x":{"field":"x","type":"quantitative","axis":null},"y":{"field":"y","type":"quantitative","axis":null}}},
{"data":{"values":[{"t":"fcc"}]},"mark":{"type":"text","align":"left","baseline":"middle","fontSize":24,"font":"DejaVu Sans"},"encoding":{"text":{"field":"t"},"x":{"datum":-9.7,"type":"quantitative","axis":null},"y":{"datum":1.57,"type":"quantitative","axis":null}}}
],
"resolve":{"axis":{"x":"independent","y":"independent"}}},

{"width":734,"height":86,"data":{"name":"p10"},
"layer":[
{"transform":[{"filter":"datum.s=='k'"}],"mark":{"type":"line","color":"black","strokeWidth":4.5,"clip":true},
"encoding":{"x":{"field":"x","type":"quantitative","scale":{"domain":[-11,7.35],"nice":false,"zero":false},"axis":{"orient":"bottom","values":[-10,-9,-8,-7,-6,-5,-4,-3,-2,-1,0,1,2,3,4,5,6,7],"labels":false,"tickSize":{"condition":{"test":"datum.value % 2 == 0","value":-14},"value":-8},"title":null}},
"y":{"field":"y","type":"quantitative","scale":{"domain":[0,2.5],"nice":false,"zero":false},"axis":{"orient":"left","values":[0,0.5,1,1.5,2],"labelExpr":"datum.value % 1 == 0 ? '' + datum.value : ''","labelPadding":20,"tickSize":{"condition":{"test":"datum.value % 1 == 0","value":-15},"value":-8},"title":null}}}},
{"transform":[{"filter":"datum.s=='r'"}],"mark":{"type":"line","color":"#ff0000","strokeWidth":5,"strokeDash":[24,10],"clip":true},
"encoding":{"x":{"field":"x","type":"quantitative","scale":{"domain":[-11,7.35],"nice":false,"zero":false},"axis":{"orient":"top","values":[-10,-9,-8,-7,-6,-5,-4,-3,-2,-1,0,1,2,3,4,5,6,7],"labels":false,"tickSize":{"condition":{"test":"datum.value % 2 == 0","value":-14},"value":-8},"title":null}},
"y":{"field":"y","type":"quantitative","scale":{"domain":[0,2.5],"nice":false,"zero":false},"axis":{"orient":"right","values":[0,0.5,1,1.5,2],"labels":false,"tickSize":{"condition":{"test":"datum.value % 1 == 0","value":-15},"value":-8},"title":null}}}},
{"transform":[{"filter":"datum.s=='b'"}],"mark":{"type":"line","color":"#0000ff","strokeWidth":6,"strokeDash":[6,29],"clip":true},"encoding":{"x":{"field":"x","type":"quantitative","axis":null},"y":{"field":"y","type":"quantitative","axis":null}}},
{"data":{"values":[{"t":"hcp"}]},"mark":{"type":"text","align":"left","baseline":"middle","fontSize":24,"font":"DejaVu Sans"},"encoding":{"text":{"field":"t"},"x":{"datum":-9.7,"type":"quantitative","axis":null},"y":{"datum":1.45,"type":"quantitative","axis":null}}}
],
"resolve":{"axis":{"x":"independent","y":"independent"}}},

{"width":734,"height":87,"data":{"name":"p11"},
"layer":[
{"transform":[{"filter":"datum.s=='k'"}],"mark":{"type":"line","color":"black","strokeWidth":4.5,"clip":true},
"encoding":{"x":{"field":"x","type":"quantitative","scale":{"domain":[-11,7.35],"nice":false,"zero":false},"axis":{"orient":"bottom","values":[-10,-9,-8,-7,-6,-5,-4,-3,-2,-1,0,1,2,3,4,5,6,7],"labelExpr":"datum.value % 2 == 0 ? (datum.value < 0 ? '-' + abs(datum.value) : '' + datum.value) : ''","labelPadding":28,"labelFontSize":26,"tickSize":{"condition":{"test":"datum.value % 2 == 0","value":-14},"value":-8},"title":"energy [eV]","titleAngle":0,"titleX":367,"titleY":42,"titleAlign":"center","titleBaseline":"middle","titleFontSize":21}},
"y":{"field":"y","type":"quantitative","scale":{"domain":[0,2.5],"nice":false,"zero":false},"axis":{"orient":"left","values":[0,0.5,1,1.5,2],"labelExpr":"datum.value % 1 == 0 ? '' + datum.value : ''","labelPadding":20,"tickSize":{"condition":{"test":"datum.value % 1 == 0","value":-15},"value":-8},"title":null}}}},
{"transform":[{"filter":"datum.s=='s'"}],"mark":{"type":"line","color":"black","strokeWidth":2.2,"clip":true},"encoding":{"x":{"field":"x","type":"quantitative","axis":null},"y":{"field":"y","type":"quantitative","axis":null}}},
{"transform":[{"filter":"datum.s=='r'"}],"mark":{"type":"line","color":"#ff0000","strokeWidth":5,"strokeDash":[24,10],"clip":true},
"encoding":{"x":{"field":"x","type":"quantitative","scale":{"domain":[-11,7.35],"nice":false,"zero":false},"axis":{"orient":"top","values":[-10,-9,-8,-7,-6,-5,-4,-3,-2,-1,0,1,2,3,4,5,6,7],"labels":false,"tickSize":{"condition":{"test":"datum.value % 2 == 0","value":-14},"value":-8},"title":null}},
"y":{"field":"y","type":"quantitative","scale":{"domain":[0,2.5],"nice":false,"zero":false},"axis":{"orient":"right","values":[0,0.5,1,1.5,2],"labels":false,"tickSize":{"condition":{"test":"datum.value % 1 == 0","value":-15},"value":-8},"title":null}}}},
{"transform":[{"filter":"datum.s=='b'"}],"mark":{"type":"line","color":"#0000ff","strokeWidth":6,"strokeDash":[6,29],"clip":true},"encoding":{"x":{"field":"x","type":"quantitative","axis":null},"y":{"field":"y","type":"quantitative","axis":null}}},
{"data":{"values":[{"t":"clean"}]},"mark":{"type":"text","align":"left","baseline":"middle","fontSize":24,"font":"DejaVu Sans"},"encoding":{"text":{"field":"t"},"x":{"datum":-9.65,"type":"quantitative","axis":null},"y":{"datum":1.57,"type":"quantitative","axis":null}}}
],
"resolve":{"axis":{"x":"independent","y":"independent"}}}
]
}
